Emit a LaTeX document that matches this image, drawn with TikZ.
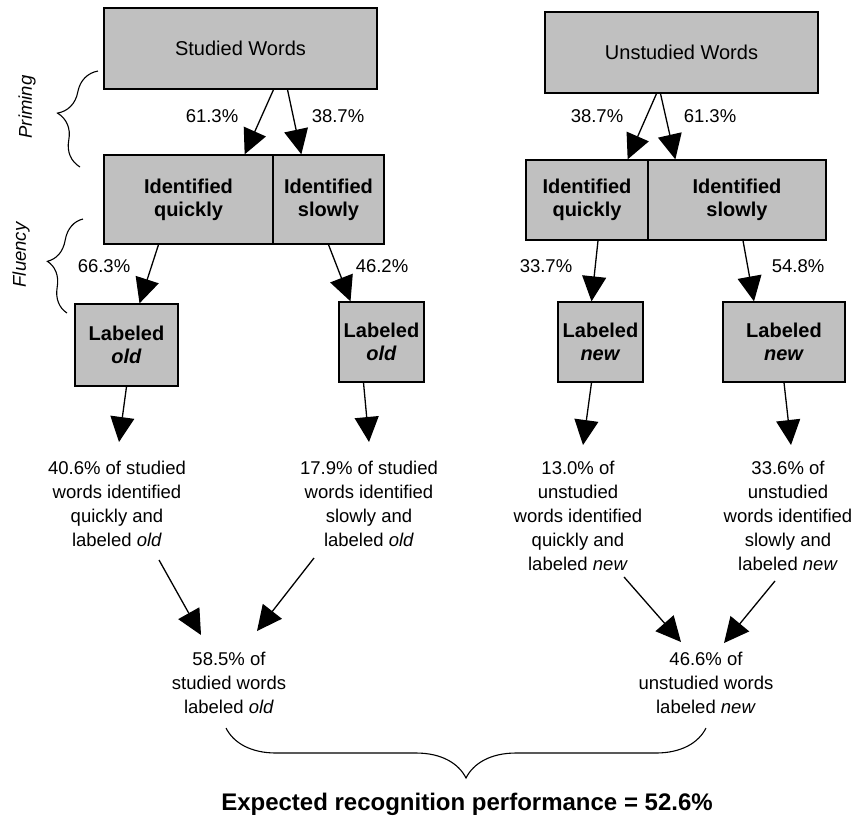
\documentclass[tikz,border=0pt]{standalone}
\usepackage{fontspec}
\setmainfont{Liberation Sans}
\usetikzlibrary{arrows.meta,calc,decorations.pathreplacing}
\definecolor{boxgray}{RGB}{192,192,192}

\begin{document}
\begin{tikzpicture}[x=1pt, y=-1pt,
    box/.style={draw, line width=1.3pt, fill=boxgray, inner sep=0pt, align=center, font=\fontsize{20}{23}\selectfont},
    hdbox/.style={box, font=\fontsize{20}{23}\selectfont\bfseries},
    arr/.style={line width=1.3pt, -{Triangle[length=25pt,width=24pt]}},
    pct/.style={font=\fontsize{18.5}{24}\selectfont, inner sep=0pt},
    res/.style={font=\fontsize{18.5}{24}\selectfont, align=center, inner sep=0pt, anchor=north},
    side/.style={font=\fontsize{18.5}{24}\selectfont\itshape, rotate=90, inner sep=0pt},
    brc/.style={decorate, line width=1.1pt, decoration={brace, amplitude=#1}}]
    \useasboundingbox (0,0) rectangle (853,815);
    % studied words
    \node[box, minimum width=273pt, minimum height=81pt] (sw) at (240.5,48.5) {Studied Words};
    \node[hdbox, minimum width=169pt, minimum height=89pt] (iq) at (188.5,199.5) {Identified\\quickly};
    \node[hdbox, minimum width=111pt, minimum height=89pt] (is) at (328.5,199.5) {Identified\\slowly};
    \node[hdbox, minimum width=103pt, minimum height=82pt] (lo1) at (126.5,345) {Labeled\\\textit{old}};
    \node[hdbox, minimum width=85pt, minimum height=80pt] (lo2) at (381.5,342) {Labeled\\\textit{old}};
    % unstudied words
    \node[box, minimum width=273pt, minimum height=81pt] (uw) at (681.5,52.5) {Unstudied Words};
    \node[hdbox, minimum width=122pt, minimum height=80pt] (uq) at (587,200) {Identified\\quickly};
    \node[hdbox, minimum width=178pt, minimum height=80pt] (us) at (737,200) {Identified\\slowly};
    \node[hdbox, minimum width=85pt, minimum height=80pt] (ln1) at (600.5,342) {Labeled\\\textit{new}};
    \node[hdbox, minimum width=122pt, minimum height=80pt] (ln2) at (784,342) {Labeled\\\textit{new}};
    % percentages
    \node[pct] (p1) at (212,116) {61.3\%};
    \node[pct] (p2) at (338,116) {38.7\%};
    \node[pct] (p3) at (597,116) {38.7\%};
    \node[pct] (p4) at (710,116) {61.3\%};
    \node[pct] (p5) at (104,266) {66.3\%};
    \node[pct] (p6) at (382,266) {46.2\%};
    \node[pct] (p7) at (546,266) {33.7\%};
    \node[pct] (p8) at (798,266) {54.8\%};
    % outcomes
    \node[res] (r1) at (117,461) {40.6\% of studied\\words identified\\quickly and\\labeled \textit{old}};
    \node[res] (r2) at (369,461) {17.9\% of studied\\words identified\\slowly and\\labeled \textit{old}};
    \node[res] (r3) at (578,461) {13.0\% of\\unstudied\\words identified\\quickly and\\labeled \textit{new}};
    \node[res] (r4) at (788,461) {33.6\% of\\unstudied\\words identified\\slowly and\\labeled \textit{new}};
    \node[res] (b1) at (229,652) {58.5\% of\\studied words\\labeled \textit{old}};
    \node[res] (b2) at (706,652) {46.6\% of\\unstudied words\\labeled \textit{new}};
    \node[font=\fontsize{24}{28}\selectfont\bfseries, anchor=base, inner sep=0pt] (perf) at (467,810) {Expected recognition performance = 52.6\%};
    % priming
    \draw[arr] ($(sw.south)+(33,0)$) -- ($(iq.north east)+(-29,0)$);
    \draw[arr] ($(sw.south)+(47,0)$) -- ($(is.north west)+(29,0)$);
    \draw[arr] ($(uw.south)+(-25,0)$) -- ($(uq.north east)+(-21,0)$);
    \draw[arr] ($(uw.south)+(-21,0)$) -- ($(us.north west)+(28,0)$);
    % fluency
    \draw[arr] ($(iq.south)+(-30,0)$) -- ($(lo1.north)+(13,0)$);
    \draw[arr] (is.south) -- ($(lo2.north)+(-31,0)$);
    \draw[arr] ($(uq.south)+(11,0)$) -- ($(ln1.north)+(-9,0)$);
    \draw[arr] ($(us.south)+(6,0)$) -- ($(ln2.north)+(-30,0)$);
    % labels to outcomes
    \draw[arr] (lo1.south) -- ($(r1.north)+(2,-19)$);
    \draw[arr] ($(lo2.south)+(-18,0)$) -- ($(r2.north)+(0,-19)$);
    \draw[arr] ($(ln1.south)+(-9,0)$) -- ($(r3.north)+(5,-16)$);
    \draw[arr] (ln2.south) -- ($(r4.north)+(3,-16)$);
    % outcomes to totals
    \draw[arr] ($(r1.south)+(42,13)$) -- ($(b1.north)+(-28,-17)$);
    \draw[arr] ($(r2.south)+(-55,11)$) -- ($(b1.north)+(28,-21)$);
    \draw[arr] ($(r3.south)+(46,6)$) -- ($(b2.north)+(-25,-10)$);
    \draw[arr] ($(r4.south)+(-13,10)$) -- ($(b2.north)+(18,-9)$);
    % braces
    \node[side] (prim) at (27,107) {Priming};
    \node[side] (flu) at (21,255) {Fluency};
    \draw[brc=32] (80,167) -- (98,71);
    \draw[brc=28] (67,313) -- (83,219);
    \draw[brc=50] (706,728) -- (226,728);
\end{tikzpicture}
\end{document}
